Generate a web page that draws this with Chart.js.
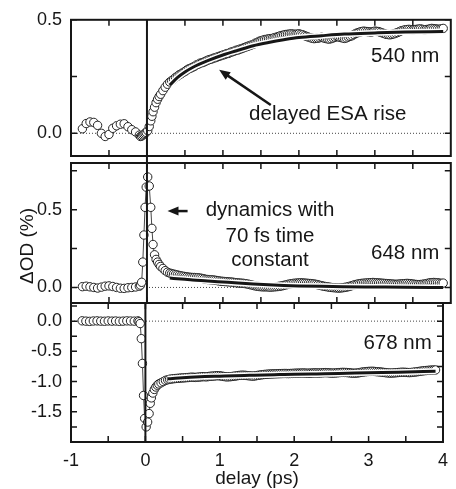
<!DOCTYPE html>
<html lang="en">
<head>
  <meta charset="UTF-8" />
  <title>Transient absorption kinetics</title>
  <script src="https://cdn.jsdelivr.net/npm/chart.js"></script>
  <style>
    body { margin: 0; background: #fff; }
    #wrap { position: relative; width: 456px; height: 489px; }
    canvas { position: absolute; left: 0; top: 0; }
  </style>
</head>
<body>
  <div id="wrap">
    <canvas id="p540" width="456" height="489"></canvas>
    <canvas id="p648" width="456" height="489"></canvas>
    <canvas id="p678" width="456" height="489"></canvas>
  </div>

  <script>
    // pump-probe delays (ps), same grid for every probe wavelength
    const delays = [
      -0.85, -0.80, -0.75, -0.70, -0.65, -0.60, -0.55, -0.50, -0.45, -0.40, -0.35, -0.30, -0.25, -0.20, -0.15, -0.10,
      -0.085, -0.07, -0.055, -0.04, -0.025, -0.01, 0.01, 0.03, 0.05, 0.065, 0.08, 0.10, 0.12, 0.14, 0.16, 0.18, 0.21, 0.24, 0.27, 0.30,
      0.325, 0.35, 0.375, 0.40, 0.425, 0.45, 0.475, 0.50,
      0.525, 0.55, 0.575, 0.60, 0.625, 0.65, 0.675, 0.70, 0.725, 0.75, 0.775, 0.80, 0.825, 0.85, 0.875, 0.90, 0.925, 0.95, 0.975, 1.00,
      1.025, 1.05, 1.075, 1.10, 1.125, 1.15, 1.175, 1.20, 1.225, 1.25, 1.275, 1.30, 1.325, 1.35, 1.375, 1.40, 1.425, 1.45, 1.475, 1.50,
      1.525, 1.55, 1.575, 1.60, 1.625, 1.65, 1.675, 1.70, 1.725, 1.75, 1.775, 1.80, 1.825, 1.85, 1.875, 1.90, 1.925, 1.95, 1.975, 2.00,
      2.025, 2.05, 2.075, 2.10, 2.125, 2.15, 2.175, 2.20, 2.225, 2.25, 2.275, 2.30, 2.325, 2.35, 2.375, 2.40, 2.425, 2.45, 2.475, 2.50,
      2.525, 2.55, 2.575, 2.60, 2.625, 2.65, 2.675, 2.70, 2.725, 2.75, 2.775, 2.80, 2.825, 2.85, 2.875, 2.90, 2.925, 2.95, 2.975, 3.00,
      3.025, 3.05, 3.075, 3.10, 3.125, 3.15, 3.175, 3.20, 3.225, 3.25, 3.275, 3.30, 3.325, 3.35, 3.375, 3.40, 3.425, 3.45, 3.475, 3.50,
      3.525, 3.55, 3.575, 3.60, 3.625, 3.65, 3.675, 3.70, 3.725, 3.75, 3.775, 3.80, 3.825, 3.85, 3.875, 3.90
    ];

    // ΔOD (%) at 540 nm
    const od540 = [
      0.02, 0.043, 0.05, 0.048, 0.035, 0.0, -0.014, -0.005, 0.022, 0.033, 0.04, 0.042, 0.029, 0.016, 0.006, -0.008,
      -0.014, -0.012, -0.008, -0.004, 0.0, 0.004, 0.012, 0.03, 0.055, 0.075, 0.095, 0.115, 0.135, 0.15, 0.162, 0.172, 0.188, 0.203, 0.216, 0.226,
      0.232, 0.238, 0.246, 0.251, 0.258, 0.262, 0.268, 0.272,
      0.279, 0.284, 0.287, 0.291, 0.295, 0.301, 0.304, 0.309, 0.311, 0.314, 0.318, 0.322, 0.325, 0.327, 0.331, 0.333, 0.336, 0.339, 0.342, 0.345,
      0.347, 0.351, 0.352, 0.357, 0.359, 0.362, 0.366, 0.367, 0.371, 0.373, 0.377, 0.38, 0.383, 0.386, 0.389, 0.392, 0.397, 0.4, 0.405, 0.408,
      0.41, 0.413, 0.414, 0.416, 0.417, 0.418, 0.421, 0.423, 0.426, 0.429, 0.431, 0.433, 0.435, 0.436, 0.437, 0.438, 0.437, 0.436, 0.437, 0.438,
      0.436, 0.434, 0.43, 0.427, 0.424, 0.421, 0.419, 0.417, 0.418, 0.419, 0.421, 0.423, 0.42, 0.418, 0.416, 0.415, 0.417, 0.42, 0.423, 0.426,
      0.424, 0.422, 0.42, 0.418, 0.42, 0.424, 0.427, 0.43, 0.435, 0.44, 0.443, 0.446, 0.448, 0.45, 0.449, 0.448, 0.447, 0.446, 0.448, 0.45,
      0.449, 0.448, 0.445, 0.442, 0.439, 0.436, 0.435, 0.434, 0.436, 0.438, 0.441, 0.444, 0.448, 0.452, 0.454, 0.456, 0.457, 0.458, 0.456, 0.455,
      0.457, 0.458, 0.459, 0.46, 0.458, 0.456, 0.457, 0.458, 0.46, 0.462, 0.461, 0.46, 0.459, 0.458, 0.46, 0.462
    ];

    // ΔOD (%) at 648 nm
    const od648 = [
      0.005, 0.008, 0.004, 0.0, -0.004, 0.002, 0.008, 0.01, 0.006, 0.0, -0.005, -0.006, -0.002, 0.0, 0.003, 0.008,
      0.015, 0.033, 0.163, 0.337, 0.515, 0.645, 0.71, 0.652, 0.515, 0.38, 0.276, 0.21, 0.18, 0.163, 0.148, 0.135, 0.122, 0.108, 0.098, 0.092,
      0.089, 0.086, 0.083, 0.08, 0.077, 0.074, 0.072, 0.07,
      0.068, 0.066, 0.065, 0.064, 0.064, 0.063, 0.062, 0.06, 0.058, 0.055, 0.052, 0.051, 0.05, 0.049, 0.048, 0.046, 0.044, 0.042, 0.04, 0.039,
      0.038, 0.037, 0.036, 0.035, 0.034, 0.032, 0.03, 0.029, 0.028, 0.027, 0.026, 0.024, 0.022, 0.019, 0.016, 0.013, 0.01, 0.008, 0.006, 0.005,
      0.004, 0.004, 0.004, 0.003, 0.002, 0.003, 0.004, 0.005, 0.006, 0.008, 0.01, 0.013, 0.016, 0.019, 0.022, 0.024, 0.026, 0.027, 0.028, 0.029,
      0.03, 0.029, 0.028, 0.027, 0.026, 0.025, 0.024, 0.022, 0.02, 0.017, 0.014, 0.011, 0.008, 0.006, 0.004, 0.002, 0.0, -0.001, -0.002, -0.003,
      -0.004, -0.003, -0.002, 0.0, 0.002, 0.005, 0.008, 0.012, 0.016, 0.019, 0.022, 0.024, 0.026, 0.027, 0.028, 0.029, 0.03, 0.031, 0.032, 0.031,
      0.03, 0.029, 0.028, 0.027, 0.026, 0.025, 0.024, 0.023, 0.022, 0.021, 0.02, 0.021, 0.022, 0.023, 0.024, 0.025, 0.026, 0.025, 0.024, 0.022,
      0.02, 0.019, 0.018, 0.019, 0.02, 0.022, 0.024, 0.027, 0.03, 0.031, 0.032, 0.031, 0.03, 0.028, 0.026, 0.028
    ];

    // ΔOD (%) at 678 nm
    const od678 = [
      0.005, 0.0, -0.004, 0.002, 0.004, 0.0, -0.002, 0.003, 0.0, 0.002, -0.003, 0.0, 0.004, 0.002, 0.0, 0.004,
      -0.01, -0.04, -0.29, -0.70, -1.23, -1.61, -1.75, -1.67, -1.53, -1.36, -1.27, -1.19, -1.13, -1.09, -1.06, -1.04, -1.02, -1.0, -0.98, -0.97,
      -0.962, -0.958, -0.953, -0.95, -0.948, -0.945, -0.942, -0.94,
      -0.938, -0.935, -0.933, -0.93, -0.928, -0.93, -0.931, -0.928, -0.925, -0.922, -0.918, -0.92, -0.921, -0.916, -0.912, -0.91, -0.908, -0.904, -0.902, -0.905,
      -0.91, -0.915, -0.92, -0.922, -0.92, -0.918, -0.914, -0.91, -0.905, -0.9, -0.897, -0.895, -0.896, -0.898, -0.902, -0.905, -0.908, -0.91, -0.906, -0.9,
      -0.895, -0.89, -0.886, -0.882, -0.88, -0.877, -0.875, -0.874, -0.872, -0.871, -0.87, -0.869, -0.868, -0.867, -0.866, -0.867, -0.868, -0.866, -0.865, -0.863,
      -0.862, -0.861, -0.86, -0.859, -0.858, -0.86, -0.862, -0.861, -0.86, -0.858, -0.856, -0.857, -0.858, -0.857, -0.855, -0.853, -0.852, -0.854, -0.856, -0.86,
      -0.859, -0.858, -0.855, -0.852, -0.85, -0.848, -0.849, -0.85, -0.853, -0.856, -0.86, -0.862, -0.861, -0.858, -0.853, -0.846, -0.842, -0.838, -0.835, -0.832,
      -0.831, -0.83, -0.832, -0.835, -0.838, -0.84, -0.844, -0.848, -0.852, -0.856, -0.858, -0.86, -0.858, -0.856, -0.853, -0.85, -0.848, -0.846, -0.847, -0.848,
      -0.85, -0.852, -0.849, -0.846, -0.842, -0.838, -0.833, -0.828, -0.824, -0.82, -0.817, -0.815, -0.812, -0.81, -0.809, -0.808
    ];

    // fitted kinetics, from 0.3 ps on
    const fitDelays = [0.3, 0.4, 0.5, 0.6, 0.8, 1.0, 1.2, 1.4, 1.6, 1.8, 2.0, 2.3, 2.6, 3.0, 3.4, 3.9];
    const fit540 = [0.212, 0.245, 0.27, 0.29, 0.32, 0.345, 0.366, 0.386, 0.4, 0.412, 0.422, 0.43, 0.437, 0.442, 0.446, 0.448];
    const fit648 = [0.06, 0.056, 0.052, 0.048, 0.042, 0.035, 0.028, 0.022, 0.017, 0.013, 0.01, 0.007, 0.005, 0.003, 0.001, 0.0];
    const fit678 = [-0.955, -0.945, -0.937, -0.93, -0.918, -0.91, -0.902, -0.896, -0.89, -0.885, -0.88, -0.873, -0.866, -0.855, -0.845, -0.83];

    // tick marks (inward) and labelled ticks
    const xTicks = [-0.5, 0, 0.5, 1, 1.5, 2, 2.5, 3, 3.5];
    const xLabels = [-1, 0, 1, 2, 3, 4];
    const yTicks540 = [0, 0.25, 0.5];
    const yLabels540 = [0, 0.5];
    const yTicks648 = [0, 0.25, 0.5, 0.75];
    const yLabels648 = [0, 0.5];
    const yTicks678 = [-1.75, -1.5, -1.25, -1, -0.75, -0.5, -0.25, 0, 0.25];
    const yLabels678 = [-1.5, -1, -0.5, 0];

    const INK = '#161616';
    const FONT = '"Liberation Sans", Arial, sans-serif';
    const TICK = 6;

    Chart.defaults.font.family = FONT;
    Chart.defaults.color = INK;

    // box, inward ticks, dotted zero line and the vertical line at time zero
    function framePlugin(yTicks, extendBottom) {
      return {
        id: 'frame',
        beforeDatasetsDraw(chart) {
          const { ctx, chartArea: a, scales: { y } } = chart;
          const y0 = y.getPixelForValue(0);
          ctx.save();
          ctx.strokeStyle = '#444';
          ctx.lineWidth = 1;
          ctx.setLineDash([1, 2]);
          ctx.beginPath();
          ctx.moveTo(a.left, y0);
          ctx.lineTo(a.right, y0);
          ctx.stroke();
          ctx.restore();
        },
        afterDatasetsDraw(chart) {
          const { ctx, chartArea: a, scales: { x, y } } = chart;
          ctx.save();
          ctx.strokeStyle = INK;
          ctx.lineWidth = 2;
          ctx.strokeRect(a.left, a.top, a.right - a.left, a.bottom - a.top);

          ctx.lineWidth = 1.5;
          ctx.beginPath();
          xTicks.forEach(v => {
            const px = x.getPixelForValue(v);
            ctx.moveTo(px, a.top); ctx.lineTo(px, a.top + TICK);
            ctx.moveTo(px, a.bottom); ctx.lineTo(px, a.bottom - TICK);
          });
          yTicks.forEach(v => {
            const py = y.getPixelForValue(v);
            ctx.moveTo(a.left, py); ctx.lineTo(a.left + TICK, py);
            ctx.moveTo(a.right, py); ctx.lineTo(a.right - TICK, py);
          });
          ctx.stroke();

          const x0 = x.getPixelForValue(0);
          ctx.lineWidth = 2;
          ctx.beginPath();
          ctx.moveTo(x0, a.top);
          ctx.lineTo(x0, a.bottom + extendBottom);
          ctx.stroke();
          ctx.restore();
        }
      };
    }

    // text notes and arrows, placed in data units
    function notesPlugin(notes, arrows, yTitle) {
      return {
        id: 'notes',
        afterDraw(chart) {
          const { ctx, chartArea: a, scales: { x, y } } = chart;
          ctx.save();
          ctx.fillStyle = INK;
          ctx.strokeStyle = INK;
          ctx.font = '20.5px ' + FONT;
          ctx.textBaseline = 'alphabetic';
          notes.forEach(n => {
            ctx.textAlign = n.align;
            ctx.fillText(n.text, x.getPixelForValue(n.x), y.getPixelForValue(n.y));
          });

          arrows.forEach(ar => {
            const x1 = x.getPixelForValue(ar.from[0]), y1 = y.getPixelForValue(ar.from[1]);
            const x2 = x.getPixelForValue(ar.to[0]), y2 = y.getPixelForValue(ar.to[1]);
            const ang = Math.atan2(y2 - y1, x2 - x1);
            const head = 11, half = 4.5;
            const bx = x2 - head * Math.cos(ang), by = y2 - head * Math.sin(ang);
            ctx.lineWidth = 2.5;
            ctx.beginPath();
            ctx.moveTo(x1, y1);
            ctx.lineTo(bx + Math.cos(ang), by + Math.sin(ang));
            ctx.stroke();
            ctx.beginPath();
            ctx.moveTo(x2, y2);
            ctx.lineTo(bx + half * Math.sin(ang), by - half * Math.cos(ang));
            ctx.lineTo(bx - half * Math.sin(ang), by + half * Math.cos(ang));
            ctx.closePath();
            ctx.fill();
          });

          if (yTitle) {
            ctx.font = '19px ' + FONT;
            ctx.textAlign = 'center';
            ctx.translate(a.left - 38, (a.top + a.bottom) / 2 + 13);
            ctx.rotate(-Math.PI / 2);
            ctx.fillText(yTitle, 0, 0);
          }
          ctx.restore();
        }
      };
    }

    function makePanel(id, values, fit, cfg) {
      const points = delays.map((t, i) => ({ x: t, y: values[i] }));
      const fitPts = fitDelays.map((t, i) => ({ x: t, y: fit[i] }));

      return new Chart(document.getElementById(id), {
        type: 'line',
        data: {
          datasets: [
            { data: fitPts, borderColor: INK, borderWidth: 3, pointRadius: 0, cubicInterpolationMode: 'monotone' },
            { data: fitPts, borderColor: '#fff', borderWidth: 6, pointRadius: 0, cubicInterpolationMode: 'monotone' },
            {
              data: points,
              borderColor: '#333',
              borderWidth: 0.9,
              pointRadius: 4.2,
              pointBorderWidth: 1,
              pointBorderColor: '#222',
              pointBackgroundColor: '#fff'
            }
          ]
        },
        options: {
          responsive: false,
          animation: false,
          devicePixelRatio: 1,
          events: [],
          layout: { padding: cfg.padding },
          plugins: { legend: { display: false }, tooltip: { enabled: false } },
          scales: {
            x: {
              type: 'linear',
              min: -1,
              max: 4,
              display: cfg.showX,
              grid: { display: false, drawTicks: false },
              border: { display: false },
              afterBuildTicks: s => { s.ticks = xLabels.map(v => ({ value: v })); },
              ticks: { color: INK, font: { size: 18 }, padding: 8, maxRotation: 0, autoSkip: false, callback: v => String(v) },
              title: { display: true, text: 'delay (ps)', color: INK, font: { size: 19 }, padding: { top: 0, bottom: -1.5 } },
              afterFit: s => { if (cfg.showX) s.height = 47; }
            },
            y: {
              min: cfg.yMin,
              max: cfg.yMax,
              grid: { display: false, drawTicks: false },
              border: { display: false },
              afterBuildTicks: s => { s.ticks = cfg.yTicks.map(v => ({ value: v })); },
              ticks: {
                color: INK,
                font: { size: 18 },
                padding: 9,
                autoSkip: false,
                callback: v => cfg.yLabels.includes(v) ? v.toFixed(1) : ''
              },
              afterFit: s => { s.width = 71; }
            }
          }
        },
        plugins: [framePlugin(cfg.yTicks, cfg.extendBottom || 0), notesPlugin(cfg.notes, cfg.arrows, cfg.yTitle)]
      });
    }

    makePanel('p540', od540, fit540, {
      padding: { top: 17, right: 5, bottom: 333, left: 0 },
      showX: false, yMin: -0.1, yMax: 0.5,
      yTicks: yTicks540, yLabels: yLabels540, extendBottom: 7,
      notes: [
        { text: '540 nm', x: 3.85, y: 0.312, align: 'right' },
        { text: 'delayed ESA rise', x: 2.38, y: 0.058, align: 'center' }
      ],
      arrows: [{ from: [1.63, 0.125], to: [0.95, 0.28] }]
    });

    makePanel('p648', od648, fit648, {
      padding: { top: 163, right: 5, bottom: 186, left: 0 },
      showX: false, yMin: -0.1, yMax: 0.8,
      yTicks: yTicks648, yLabels: yLabels648,
      notes: [
        { text: 'dynamics with', x: 1.62, y: 0.459, align: 'center' },
        { text: '70 fs time', x: 1.62, y: 0.294, align: 'center' },
        { text: 'constant', x: 1.62, y: 0.138, align: 'center' },
        { text: '648 nm', x: 3.85, y: 0.181, align: 'right' }
      ],
      arrows: [{ from: [0.535, 0.491], to: [0.27, 0.491] }],
      yTitle: 'ΔOD (%)'
    });

    makePanel('p678', od678, fit678, {
      padding: { top: 303, right: 5, bottom: 0, left: 0 },
      showX: true, yMin: -2.0, yMax: 0.3,
      yTicks: yTicks678, yLabels: yLabels678,
      notes: [
        { text: '678 nm', x: 3.85, y: -0.467, align: 'right' }
      ],
      arrows: []
    });
  </script>
</body>
</html>
